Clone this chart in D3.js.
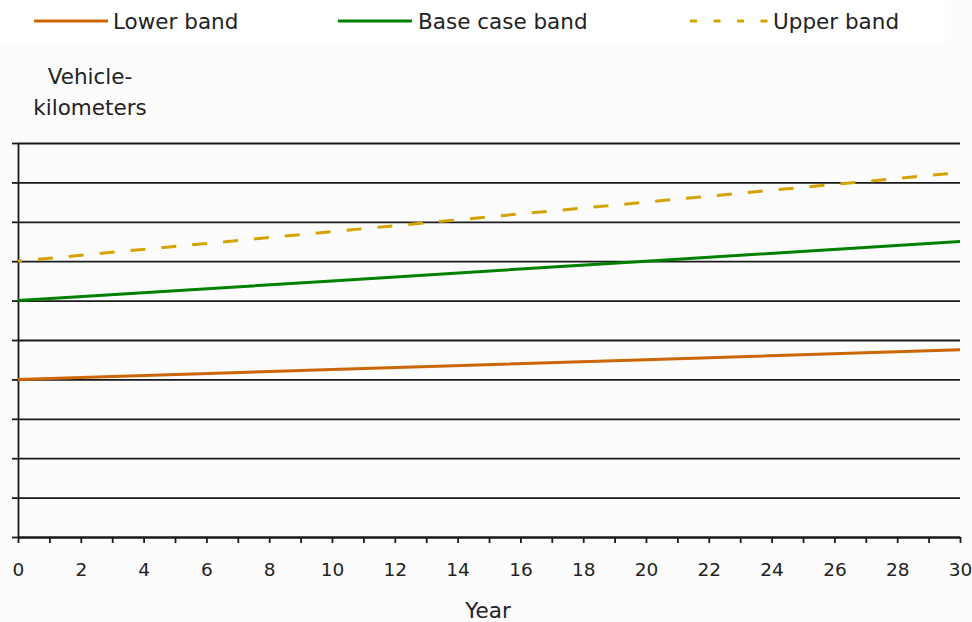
<!DOCTYPE html>
<html>
<head>
<meta charset="utf-8">
<script src="https://cdn.jsdelivr.net/npm/d3@7/dist/d3.min.js"></script>
<style>
  html, body { margin: 0; padding: 0; background: #fcfcfc; }
  svg { display: block; }
  text { font-family: "DejaVu Sans", Verdana, sans-serif; fill: #222; }
</style>
</head>
<body>
<svg id="chart" width="972" height="622"></svg>
<script>
// ---- data ----
const years = [0, 10, 20, 30];
const lowerBand = [40, 42.5, 45, 47.5];
const baseBand = [60, 65, 70, 75];
const upperBand = [70, 77.5, 85, 92.5];
const seriesNames = ["Lower band", "Base case band", "Upper band"];
const seriesColors = ["#cc6600", "#008000", "#d4a300"];
const xTickValues = d3.range(0, 31, 1);
const yTickValues = d3.range(0, 101, 10);
const yTitle = ["Vehicle-", "kilometers"];
const xTitle = "Year";

(function () {
const svg = d3.select("#chart");
const mL = 18, mR = 960, mT = 143, mB = 537;

// legend background
svg.append("rect").attr("x", 0).attr("y", 0).attr("width", 945).attr("height", 42).attr("fill", "#ffffff");

const x = d3.scaleLinear().domain([0, 30]).range([mL, mR]);
const y = d3.scaleLinear().domain([0, 100]).range([mB, mT]);

// gridlines
const grid = svg.append("g").attr("transform", `translate(${mL},0)`)
  .call(d3.axisRight(y).tickValues(yTickValues).tickSize(mR - mL).tickFormat(""));
grid.select(".domain").remove();
grid.selectAll("line").attr("stroke", "#1a1a1a").attr("stroke-width", 1.8);

// y axis
const ya = svg.append("g").attr("transform", `translate(${mL},0)`)
  .call(d3.axisLeft(y).tickValues(yTickValues).tickSize(6).tickSizeOuter(0).tickFormat(""));
ya.selectAll("line, path").attr("stroke", "#1a1a1a").attr("stroke-width", 1.8);

// x axis
const xa = svg.append("g").attr("transform", `translate(0,${mB})`)
  .call(d3.axisBottom(x).tickValues(xTickValues).tickSize(6).tickSizeOuter(0)
    .tickFormat(d => d % 2 === 0 ? String(d) : ""));
xa.selectAll("line, path").attr("stroke", "#1a1a1a").attr("stroke-width", 1.8);
xa.selectAll("text").attr("font-size", "18.5px").attr("fill", "#222")
  .attr("font-family", "DejaVu Sans, Verdana, sans-serif").attr("y", 26).attr("dy", "0.71em");

// lines
const series = [lowerBand, baseBand, upperBand];
const line = d3.line().x((d, i) => x(years[i])).y(d => y(d));
series.forEach((vals, k) => {
  const p = svg.append("path").datum(vals)
    .attr("d", line)
    .attr("fill", "none")
    .attr("stroke", seriesColors[k])
    .attr("stroke-width", 3);
  if (k === 2) p.attr("stroke-dasharray", "15,16").attr("stroke-dashoffset", 11);
});

// axis titles
const yt = svg.append("text").attr("text-anchor", "middle").attr("font-size", "21.5px");
yTitle.forEach((t, i) => yt.append("tspan").attr("x", 90).attr("y", 84 + i * 31).text(t));
svg.append("text").attr("x", 488).attr("y", 618).attr("text-anchor", "middle")
  .attr("font-size", "21.5px").text(xTitle);

// legend
const legendItems = [
  { x1: 34, x2: 108, tx: 113 },
  { x1: 338, x2: 412, tx: 418 },
  { x1: 690, x2: 769, tx: 773 }
];
legendItems.forEach((it, k) => {
  const l = svg.append("line").attr("x1", it.x1).attr("x2", it.x2).attr("y1", 21).attr("y2", 21)
    .attr("stroke", seriesColors[k]).attr("stroke-width", 3);
  if (k === 2) l.attr("stroke-dasharray", "7,16.5");
  svg.append("text").attr("x", it.tx).attr("y", 29).attr("font-size", "21.5px").text(seriesNames[k]);
});
})();
</script>
</body>
</html>
